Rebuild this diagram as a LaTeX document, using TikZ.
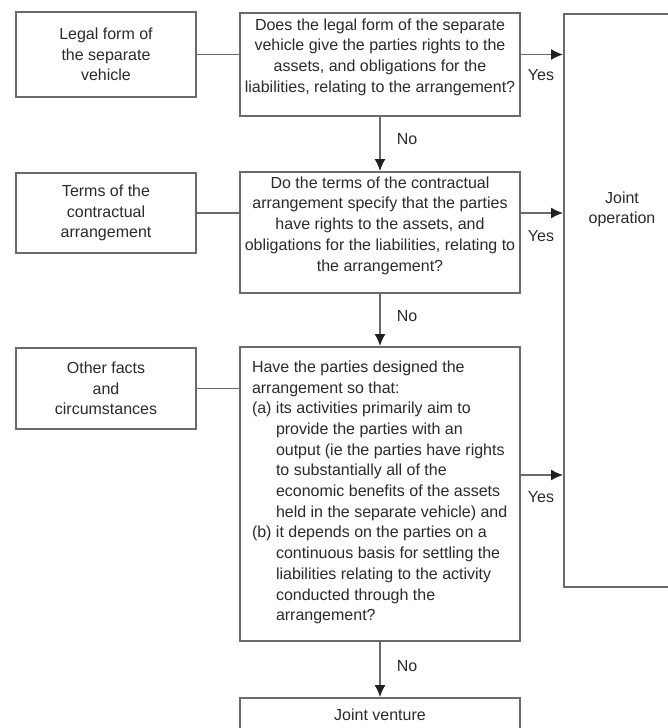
\documentclass[tikz,border=0pt]{standalone}
\usepackage{fontspec}
\setmainfont{Liberation Sans}
\usetikzlibrary{arrows.meta}
\definecolor{linegray}{HTML}{6A6A6A}
\definecolor{textgray}{HTML}{2A2A2A}
\definecolor{headgray}{HTML}{202020}
\newcommand{\boxtext}[4]{\parbox[c][#1][t]{#2}{\vspace{#3}#4}}
\newcommand{\contline}{\hspace*{24pt}}
\newcommand{\itemlabel}[1]{\makebox[24pt][l]{#1}}
\begin{document}
\begin{tikzpicture}[x=1pt, y=-1pt,
    font=\fontsize{16pt}{20.7pt}\selectfont, text=textgray,
    sidebox/.style={draw=linegray, line width=1.8pt, minimum width=180pt, align=center},
    qbox/.style={draw=linegray, line width=1.8pt, inner ysep=0pt},
    link/.style={draw=linegray, line width=1.8pt},
    arr/.style={draw=linegray, line width=1.8pt, -{Latex[length=12pt,width=11pt,color=headgray]}}]
    \useasboundingbox (0,0) rectangle (667,728);

    % Draw the inputs on the left
    \node[sidebox, minimum height=85pt] (legal) at (106,54.5) {Legal form of\\the separate\\vehicle};
    \node[sidebox, minimum height=80pt] (terms) at (106,213) {Terms of the\\contractual\\arrangement};
    \node[sidebox, minimum height=81pt] (facts) at (106,388.5) {Other facts\\and\\circumstances};

    % Draw the questions
    \node[qbox, inner xsep=2pt] (q1) at (380,64.5) {\boxtext{103pt}{276pt}{5.5pt}{\centering
        Does the legal form of the separate\\vehicle give the parties rights to the\\assets, and obligations for the\\liabilities, relating to the arrangement?}};
    \node[qbox, inner xsep=2pt] (q2) at (380,232.5) {\boxtext{121pt}{276pt}{4.7pt}{\centering
        Do the terms of the contractual\\arrangement specify that the parties\\have rights to the assets, and\\obligations for the liabilities, relating to\\the arrangement?}};
    \node[qbox, inner xsep=12pt] (q3) at (380,494) {\boxtext{294pt}{256pt}{13.7pt}{\raggedright
        Have the parties designed the\\
        arrangement so that:\\
        \itemlabel{(a)}its activities primarily aim to\\
        \contline provide the parties with an\\
        \contline output (ie the parties have rights\\
        \contline to substantially all of the\\
        \contline economic benefits of the assets\\
        \contline held in the separate vehicle) and\\
        \itemlabel{(b)}it depends on the parties on a\\
        \contline continuous basis for settling the\\
        \contline liabilities relating to the activity\\
        \contline conducted through the\\
        \contline arrangement?}};

    % Draw the outcomes
    \node[qbox, minimum width=280pt, minimum height=33pt] (jv) at (380,714.5) {Joint venture};
    \node[qbox, minimum width=114pt, minimum height=573pt] (jo) at (621,300.5) {};
    \node[align=center] (jotext) at (622,209.5) {Joint\\operation};

    % Draw the connectors
    \draw[link] (legal.east) -- (legal.east -| q1.west);
    \draw[link] (terms.east) -- (terms.east -| q2.west);
    \draw[link] (facts.east) -- (facts.east -| q3.west);
    \coordinate (yes3) at (0,475);
    \draw[arr] (legal.east -| q1.east) -- (legal.east -| jo.west);
    \draw[arr] (terms.east -| q2.east) -- (terms.east -| jo.west);
    \draw[arr] (yes3 -| q3.east) -- (yes3 -| jo.west);
    \draw[arr] (q1) -- (q2);
    \draw[arr] (q2) -- (q3);
    \draw[arr] (q3) -- (jv);

    % Draw the answers
    \foreach \y/\n in {75/1,236/2,497/3}
        \node (yes\n) at (541,\y) {Yes};
    \foreach \y/\n in {139/1,316/2,666/3}
        \node (no\n) at (407,\y) {No};
\end{tikzpicture}
\end{document}
